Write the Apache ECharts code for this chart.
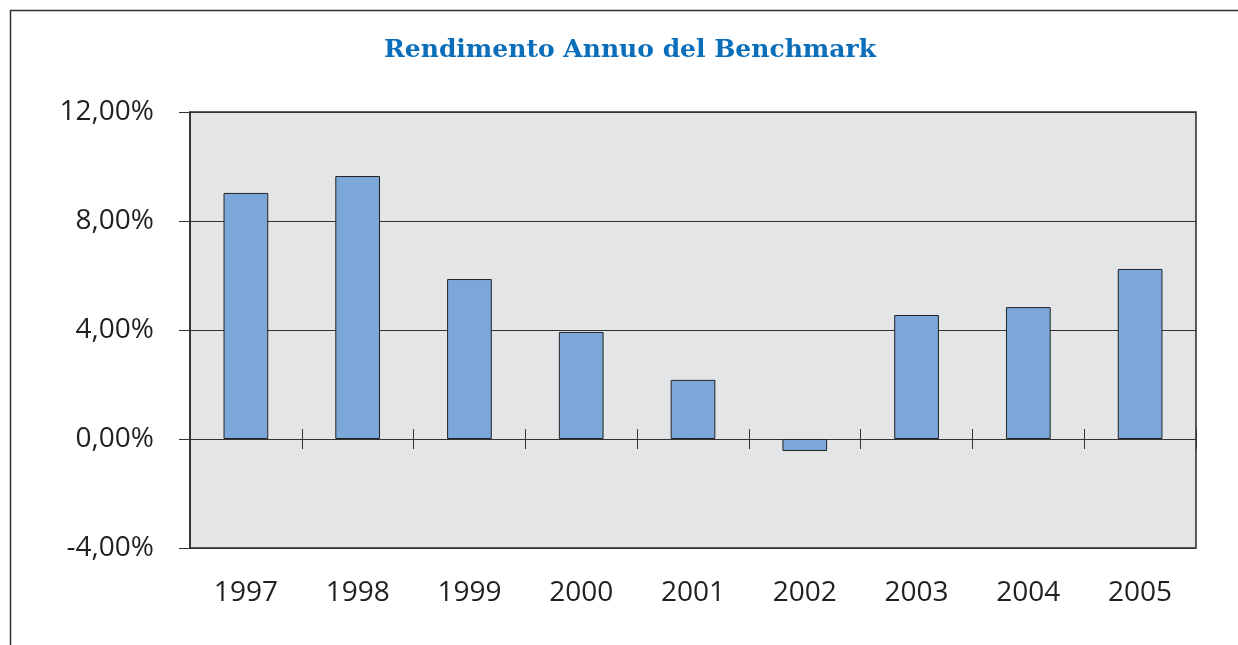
<!DOCTYPE html>
<html>
<head>
<meta charset="utf-8">
<script src="https://cdn.jsdelivr.net/npm/echarts@6/dist/echarts.min.js"></script>
<style>
html,body{margin:0;padding:0;background:#fff;}
#c{width:1238px;height:645px;}
</style>
</head>
<body>
<div id="c"></div>
<script>
const categories = ['1997','1998','1999','2000','2001','2002','2003','2004','2005'];
const returns = [9.03, 9.65, 5.87, 3.93, 2.17, -0.44, 4.55, 4.84, 6.24];
const yTicks = [-4, 0, 4, 8, 12];
const titleText = 'Rendimento Annuo del Benchmark';

const chart = echarts.init(document.getElementById('c'));
const fmt = v => v.toFixed(2).replace('.', ',') + '%';
chart.setOption({
  animation: false,
  backgroundColor: '#ffffff',
  title: {
    text: titleText,
    left: 625, top: 33, textAlign: 'center',
    textStyle: { fontFamily: 'DejaVu Serif', fontWeight: 'bold', fontSize: 25, color: '#0a6eba' }
  },
  graphic: [{
    type: 'rect', silent: true,
    shape: { x: 10.5, y: 10.5, width: 1260, height: 700 },
    style: { fill: 'none', stroke: '#333', lineWidth: 1.5 }
  }],
  grid: {
    left: 190, right: 42, top: 112, bottom: 97,
    outerBoundsMode: 'none', containLabel: false,
    show: true, backgroundColor: '#e4e5e7', borderColor: '#2a2a2a', borderWidth: 1.5
  },
  xAxis: [{
    type: 'category', data: categories, position: 'bottom',
    axisLine: { onZero: true, onZeroAxisIndex: 0, lineStyle: { color: '#333', width: 1 } },
    axisTick: { show: true, length: 10, lineStyle: { color: '#333' } },
    axisLabel: { margin: 31, fontFamily: 'Open Sans', fontSize: 28, color: '#231f20' },
    splitLine: { show: false }
  }, {
    type: 'category', data: categories, position: 'top',
    axisLine: { onZero: true, onZeroAxisIndex: 0, lineStyle: { color: '#333', width: 1 } },
    axisTick: { show: true, length: 10, lineStyle: { color: '#333' } },
    axisLabel: { show: false },
    splitLine: { show: false }
  }],
  yAxis: {
    type: 'value', min: yTicks[0], max: yTicks[yTicks.length - 1], interval: 4,
    axisLine: { show: true, lineStyle: { color: '#2a2a2a', width: 1.5 } },
    axisTick: { show: true, length: 11, lineStyle: { color: '#333' } },
    axisLabel: { margin: 36, padding: [4, 0, 0, 0], fontFamily: 'Open Sans', fontSize: 28, color: '#231f20', formatter: fmt },
    splitLine: { show: true, lineStyle: { color: '#333', width: 1 } }
  },
  series: [{
    type: 'bar', data: returns, xAxisIndex: 0, barWidth: '40%',
    itemStyle: { color: '#7ba7d9', borderColor: '#222', borderWidth: 1 }
  }]
});
</script>
</body>
</html>
